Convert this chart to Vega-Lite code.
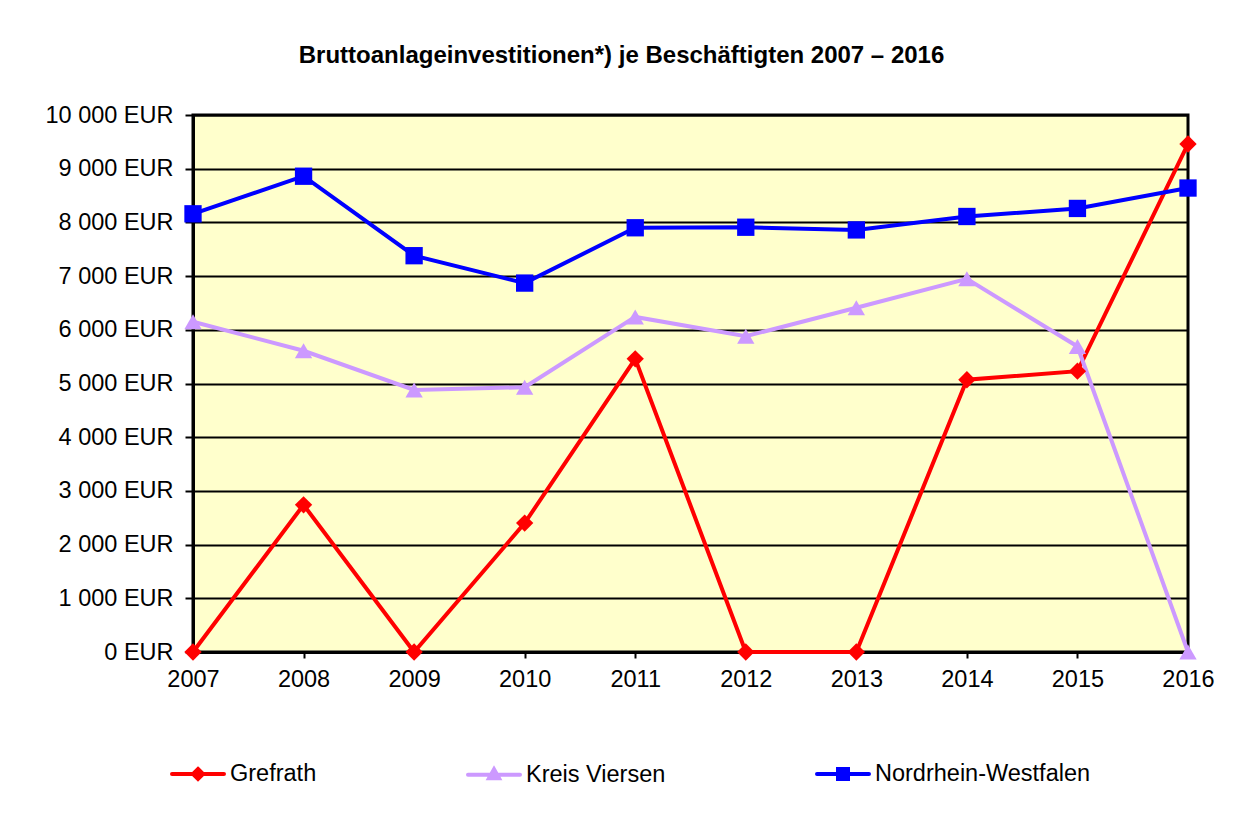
{
  "$schema": "https://vega.github.io/schema/vega-lite/v6.json",
  "autosize": {"type": "none"},
  "width": 995,
  "height": 537,
  "padding": {"left": 193, "top": 115, "right": 62, "bottom": 175},
  "background": "white",
  "title": {
    "text": "Bruttoanlageinvestitionen*) je Beschäftigten 2007 – 2016",
    "font": "Liberation Sans",
    "fontSize": 24,
    "fontWeight": "bold",
    "color": "black",
    "anchor": "middle",
    "dx": -69,
    "offset": 35
  },
  "data": {
    "values": [
      {"year": "2007", "series": "Grefrath", "value": 0},
      {"year": "2008", "series": "Grefrath", "value": 2740},
      {"year": "2009", "series": "Grefrath", "value": 0},
      {"year": "2010", "series": "Grefrath", "value": 2400},
      {"year": "2011", "series": "Grefrath", "value": 5460},
      {"year": "2012", "series": "Grefrath", "value": 0},
      {"year": "2013", "series": "Grefrath", "value": 0},
      {"year": "2014", "series": "Grefrath", "value": 5070},
      {"year": "2015", "series": "Grefrath", "value": 5230},
      {"year": "2016", "series": "Grefrath", "value": 9460},
      {"year": "2007", "series": "Kreis Viersen", "value": 6150},
      {"year": "2008", "series": "Kreis Viersen", "value": 5610},
      {"year": "2009", "series": "Kreis Viersen", "value": 4880},
      {"year": "2010", "series": "Kreis Viersen", "value": 4930},
      {"year": "2011", "series": "Kreis Viersen", "value": 6240},
      {"year": "2012", "series": "Kreis Viersen", "value": 5880},
      {"year": "2013", "series": "Kreis Viersen", "value": 6410},
      {"year": "2014", "series": "Kreis Viersen", "value": 6950},
      {"year": "2015", "series": "Kreis Viersen", "value": 5690},
      {"year": "2016", "series": "Kreis Viersen", "value": 0},
      {"year": "2007", "series": "Nordrhein-Westfalen", "value": 8160},
      {"year": "2008", "series": "Nordrhein-Westfalen", "value": 8860},
      {"year": "2009", "series": "Nordrhein-Westfalen", "value": 7380},
      {"year": "2010", "series": "Nordrhein-Westfalen", "value": 6870},
      {"year": "2011", "series": "Nordrhein-Westfalen", "value": 7900},
      {"year": "2012", "series": "Nordrhein-Westfalen", "value": 7910},
      {"year": "2013", "series": "Nordrhein-Westfalen", "value": 7860},
      {"year": "2014", "series": "Nordrhein-Westfalen", "value": 8110},
      {"year": "2015", "series": "Nordrhein-Westfalen", "value": 8260},
      {"year": "2016", "series": "Nordrhein-Westfalen", "value": 8640}
    ]
  },
  "encoding": {
    "x": {
      "field": "year",
      "type": "ordinal",
      "scale": {"type": "point", "padding": 0},
      "axis": {
        "title": null,
        "labelAngle": 0,
        "labelFont": "Liberation Sans",
        "labelFontSize": 23.5,
        "labelColor": "black",
        "labelPadding": 9,
        "tickSize": 6,
        "tickColor": "black",
        "tickWidth": 2,
        "domainColor": "black",
        "domainWidth": 3,
        "grid": false
      }
    },
    "y": {
      "field": "value",
      "type": "quantitative",
      "scale": {"domain": [0, 10000], "nice": false},
      "axis": {
        "title": null,
        "values": [0, 1000, 2000, 3000, 4000, 5000, 6000, 7000, 8000, 9000, 10000],
        "labelExpr": "replace(format(datum.value, ',d'), ',', ' ') + ' EUR'",
        "labelFont": "Liberation Sans",
        "labelFontSize": 23.5,
        "labelColor": "black",
        "labelPadding": 12,
        "tickSize": 8,
        "tickColor": "black",
        "tickWidth": 2,
        "domainColor": "black",
        "domainWidth": 3,
        "grid": true,
        "gridColor": "black",
        "gridWidth": 2,
        "gridOpacity": 1
      }
    },
    "color": {
      "field": "series",
      "type": "nominal",
      "scale": {
        "domain": ["Grefrath", "Kreis Viersen", "Nordrhein-Westfalen"],
        "range": ["#FF0000", "#CC99FF", "#0000FF"]
      },
      "legend": {
        "orient": "none",
        "direction": "horizontal",
        "legendX": -7,
        "legendY": 647,
        "title": null,
        "columnPadding": 143,
        "symbolSize": 400,
        "symbolType": "M-2.6,0H2.6M-0.5,-0.5H0.5V0.5H-0.5Z",
        "labelFont": "Liberation Sans",
        "labelFontSize": 23.5,
        "labelColor": "black",
        "labelOffset": 20,
        "labelLimit": 400,
        "encode": {
          "symbols": {
            "update": {
              "shape": {"signal": "datum.value == 'Grefrath' ? 'M-2.6,0H2.6M0,-0.5L0.5,0L0,0.5L-0.5,0Z' : datum.value == 'Kreis Viersen' ? 'M-2.6,0H2.6M0,-0.55L0.5,0.35L-0.5,0.35Z' : 'M-2.6,0H2.6M-0.5,-0.5H0.5V0.5H-0.5Z'"},
              "fill": {"scale": "color", "field": "value"},
              "stroke": {"scale": "color", "field": "value"},
              "strokeWidth": {"value": 4},
              "strokeCap": {"value": "round"},
              "opacity": {"value": 1},
              "fillOpacity": {"value": 1}
            }
          }
        }
      }
    }
  },
  "layer": [
    {
      "mark": {"type": "line", "strokeWidth": 4}
    },
    {
      "transform": [{"filter": "datum.series == 'Grefrath'"}],
      "mark": {"type": "point", "shape": "diamond", "filled": true, "opacity": 1, "size": 300}
    },
    {
      "transform": [{"filter": "datum.series == 'Kreis Viersen'"}],
      "mark": {"type": "point", "shape": "triangle-up", "filled": true, "opacity": 1, "size": 300}
    },
    {
      "transform": [{"filter": "datum.series == 'Nordrhein-Westfalen'"}],
      "mark": {"type": "point", "shape": "square", "filled": true, "opacity": 1, "size": 300}
    }
  ],
  "config": {
    "view": {"fill": "#FFFFCC", "stroke": "black", "strokeWidth": 3}
  }
}
